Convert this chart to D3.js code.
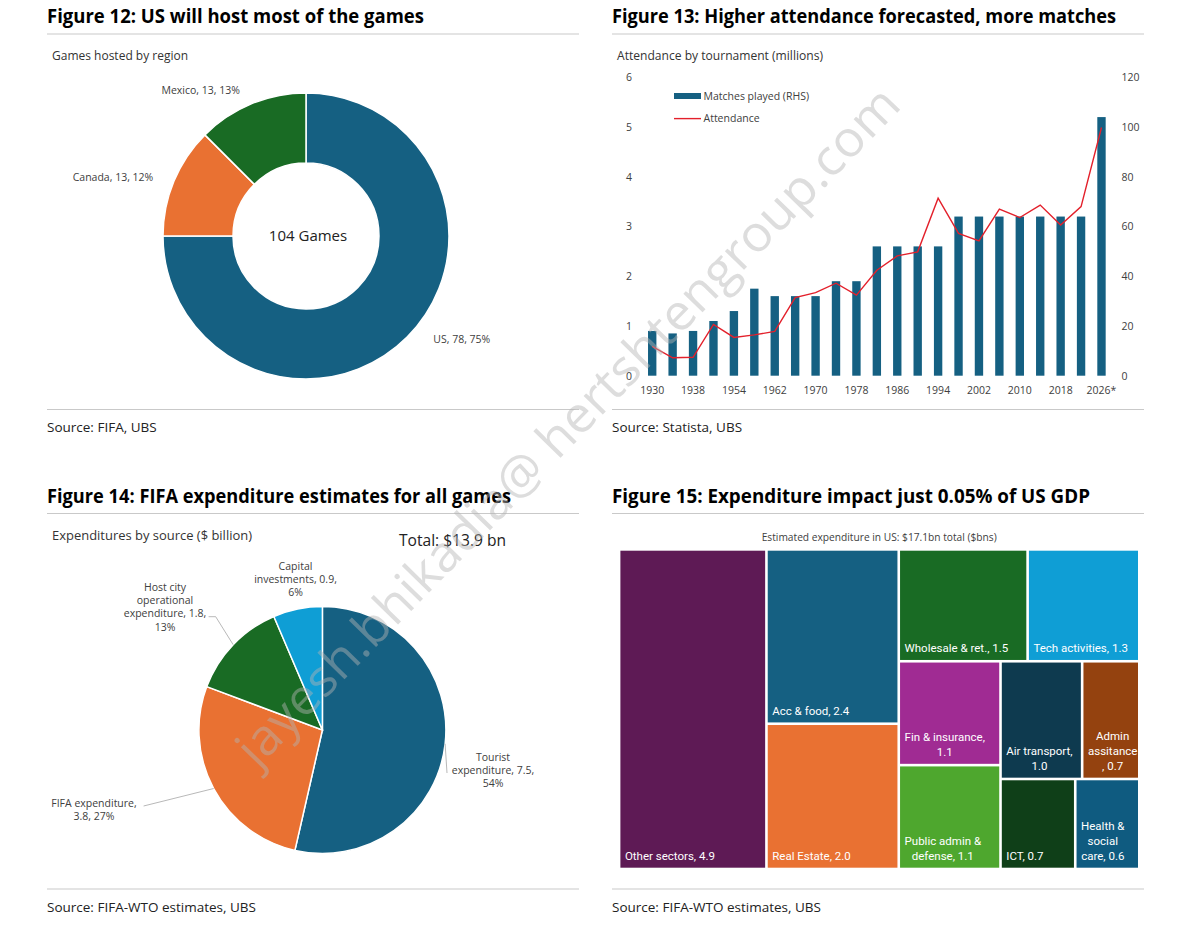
<!DOCTYPE html>
<html>
<head>
<meta charset="utf-8">
<script src="https://cdn.jsdelivr.net/npm/d3@7"></script>
<style>
  body { margin: 0; background: #fff; }
  svg { display: block; font-family: "Open Sans", "Noto Sans", sans-serif; }
</style>
</head>
<body>
<svg id="chart" width="1200" height="931"></svg>
<script>
// ---- Figure 12: games hosted by region
var hostRegions = ["US", "Canada", "Mexico"];
var hostGames = [78, 13, 13];
var hostShare = [75, 12, 13];

// ---- Figure 13: attendance by tournament
var tournaments = ["1930", "1934", "1938", "1950", "1954", "1958", "1962", "1966", "1970", "1974", "1978",
  "1982", "1986", "1990", "1994", "1998", "2002", "2006", "2010", "2014", "2018", "2022", "2026*"];
var matchesPlayed = [18, 17, 18, 22, 26, 35, 32, 32, 32, 38, 38, 52, 52, 52, 52, 64, 64, 64, 64, 64, 64, 64, 104];
var attendance = [0.59, 0.36, 0.37, 1.03, 0.77, 0.82, 0.89, 1.57, 1.67, 1.86, 1.62, 2.12,
  2.41, 2.49, 3.57, 2.86, 2.71, 3.35, 3.18, 3.43, 3.03, 3.40, 4.99];
var attendanceTicks = [0, 1, 2, 3, 4, 5, 6];
var matchesTicks = [0, 20, 40, 60, 80, 100, 120];

// ---- Figure 14: FIFA expenditure by source
var expSources = ["Tourist expenditure", "FIFA expenditure", "Host city operational expenditure", "Capital investments"];
var expValues = [7.5, 3.8, 1.8, 0.9];
var expShare = [54, 27, 13, 6];

// ---- Figure 15: estimated expenditure in US by sector
var sectors = ["Other sectors", "Acc & food", "Real Estate", "Wholesale & ret.", "Tech activities", "Fin & insurance",
  "Public admin & defense", "Air transport", "Admin assitance", "ICT", "Health & social care"];
var sectorValues = [4.9, 2.4, 2.0, 1.5, 1.3, 1.1, 1.1, 1.0, 0.7, 0.7, 0.6];

var palette = ["#156082", "#e97132", "#196b24", "#0f9ed5"];
var sectorColors = ["#5e1a55", "#156082", "#e97132", "#196b24", "#0f9ed5", "#a02b93",
  "#4ea72e", "#0e3a4f", "#94420f", "#0f3f18", "#0f5b80"];

var svg = d3.select("#chart");
var fmt1 = d3.format(".1f");

// panel frames: titles, rules, sources
var panels = [
  {x: 47, w: 532, y: 0, title: "Figure 12: US will host most of the games", tw: 377, source: "Source: FIFA, UBS"},
  {x: 612, w: 532, y: 0, title: "Figure 13: Higher attendance forecasted, more matches", tw: 504, source: "Source: Statista, UBS"},
  {x: 47, w: 532, y: 479.5, title: "Figure 14: FIFA expenditure estimates for all games", tw: 464, source: "Source: FIFA-WTO estimates, UBS"},
  {x: 612, w: 532, y: 479.5, title: "Figure 15: Expenditure impact just 0.05% of US GDP", tw: 478, source: "Source: FIFA-WTO estimates, UBS"}
];

panels.forEach(function (p) {
  var g = svg.append("g").attr("transform", "translate(0," + p.y + ")");
  g.append("text")
    .attr("x", p.x).attr("y", 23.4)
    .style("font-size", "19px").style("font-weight", "bold").style("fill", "#000")
    .attr("textLength", p.tw).attr("lengthAdjust", "spacingAndGlyphs")
    .text(p.title);
  g.append("line").attr("x1", p.x).attr("x2", p.x + p.w).attr("y1", 34).attr("y2", 34)
    .style("stroke", "#c9c9c9").style("stroke-width", 1);
  g.append("line").attr("x1", p.x).attr("x2", p.x + p.w).attr("y1", 409.5).attr("y2", 409.5)
    .style("stroke", "#c9c9c9").style("stroke-width", 1);
  g.append("text")
    .attr("x", p.x).attr("y", 432)
    .style("font-size", "13.5px").style("fill", "#222")
    .text(p.source);
});

function subtitle(x, y, txt, size) {
  return svg.append("text").attr("x", x).attr("y", y)
    .style("font-size", size || "12px").style("fill", "#333").text(txt);
}

// ================= Figure 12 donut
(function () {
  var cx = 306, cy = 236;
  subtitle(52, 59.5, "Games hosted by region");
  var pie = d3.pie().sort(null).value(function (d) { return d; });
  var arcs = pie(hostGames);
  var arc = d3.arc().innerRadius(73).outerRadius(143);
  var g = svg.append("g").attr("transform", "translate(" + cx + "," + cy + ")");
  g.selectAll("path").data(arcs).enter().append("path")
    .attr("d", arc)
    .style("fill", function (d, i) { return palette[i]; })
    .style("stroke", "#fff").style("stroke-width", 1.5);

  g.append("text").attr("x", 2).attr("y", 0).attr("dy", "0.35em")
    .attr("text-anchor", "middle").style("font-size", "15px").style("fill", "#222")
    .text(hostGames.reduce(function (a, b) { return a + b; }, 0) + " Games");

  // label spots as placed in the original
  var spots = [[155.8, 103], [-193, -58.5], [-105.3, -146]];
  g.selectAll(".lbl").data(arcs).enter().append("text")
    .attr("class", "lbl")
    .attr("x", function (d, i) { return spots[i][0]; })
    .attr("y", function (d, i) { return spots[i][1]; })
    .attr("dy", "0.35em").attr("text-anchor", "middle")
    .style("font-size", "10.5px").style("fill", "#404040")
    .text(function (d, i) { return hostRegions[i] + ", " + hostGames[i] + ", " + hostShare[i] + "%"; });
})();

// ================= Figure 13 bars + line
(function () {
  subtitle(617, 60, "Attendance by tournament (millions)").attr("textLength", 206).attr("lengthAdjust", "spacingAndGlyphs");

  var x = d3.scaleBand().domain(tournaments).range([642, 1111.7]).paddingInner(0.59).paddingOuter(0.295);
  var yL = d3.scaleLinear().domain([0, 6]).range([375.7, 77.3]);
  var yR = d3.scaleLinear().domain([0, 120]).range([375.7, 77.3]);

  svg.append("g").selectAll("rect").data(matchesPlayed).enter().append("rect")
    .attr("x", function (d, i) { return x(tournaments[i]); })
    .attr("width", x.bandwidth())
    .attr("y", function (d) { return yR(d); })
    .attr("height", function (d) { return yR(0) - yR(d); })
    .style("fill", "#156082");

  var line = d3.line()
    .x(function (d, i) { return x(tournaments[i]) + x.bandwidth() / 2; })
    .y(function (d) { return yL(d); });
  svg.append("path").datum(attendance).attr("d", line)
    .style("fill", "none").style("stroke", "#e3202b").style("stroke-width", 1.4);

  function styleAxis(g) {
    g.select(".domain").remove();
    g.selectAll("text").style("font-family", "'Open Sans', sans-serif")
      .style("font-size", "10.5px").style("fill", "#404040");
  }

  svg.append("g").attr("transform", "translate(635,0)")
    .call(d3.axisLeft(yL).tickValues(attendanceTicks).tickSize(0).tickPadding(3).tickFormat(d3.format("d")))
    .call(styleAxis);
  svg.append("g").attr("transform", "translate(1118.5,0)")
    .call(d3.axisRight(yR).tickValues(matchesTicks).tickSize(0).tickPadding(3).tickFormat(d3.format("d")))
    .call(styleAxis);
  var xa = svg.append("g").attr("transform", "translate(0," + yL(0) + ")")
    .call(d3.axisBottom(x).tickValues(tournaments.filter(function (d, i) { return i % 2 === 0; })).tickSize(0))
    .call(styleAxis);
  xa.selectAll("text").attr("y", 18).attr("dy", 0);

  // legend
  var lg = svg.append("g");
  lg.append("rect").attr("x", 674).attr("y", 93).attr("width", 27).attr("height", 6).style("fill", "#156082");
  lg.append("line").attr("x1", 674).attr("x2", 701).attr("y1", 118.6).attr("y2", 118.6)
    .style("stroke", "#e3202b").style("stroke-width", 1.4);
  lg.append("text").attr("x", 703.5).attr("y", 96).attr("dy", "0.35em")
    .style("font-size", "10.5px").style("fill", "#404040").text("Matches played (RHS)");
  lg.append("text").attr("x", 703.5).attr("y", 118.6).attr("dy", "0.35em")
    .style("font-size", "10.5px").style("fill", "#404040").text("Attendance");
})();

// ================= Figure 14 pie
(function () {
  var cx = 322.4, cy = 730, r = 123.5;
  subtitle(52, 539.5, "Expenditures by source ($ billion)").attr("textLength", 200).attr("lengthAdjust", "spacingAndGlyphs");
  svg.append("text").attr("x", 399).attr("y", 546)
    .style("font-size", "17px").style("fill", "#222")
    .attr("textLength", 107).attr("lengthAdjust", "spacingAndGlyphs")
    .text("Total: $13.9 bn");

  var pie = d3.pie().sort(null).value(function (d) { return d; });
  var arcs = pie(expValues);
  var arc = d3.arc().innerRadius(0).outerRadius(r);
  var g = svg.append("g").attr("transform", "translate(" + cx + "," + cy + ")");
  g.selectAll("path").data(arcs).enter().append("path")
    .attr("d", arc)
    .style("fill", function (d, i) { return palette[i]; })
    .style("stroke", "#fff").style("stroke-width", 1.5);

  // label text wrapping and placement as in the original
  var wraps = [
    ["Tourist", "expenditure, %v,", "%p"],
    ["FIFA expenditure,", "%v, %p"],
    ["Host city", "operational", "expenditure, %v,", "%p"],
    ["Capital", "investments, %v,", "%p"]
  ];
  var spots = [
    {x: 493, y: 760.5, lead: [[447, 773]]},
    {x: 94, y: 806.5, lead: [[143.6, 806]]},
    {x: 165, y: 590.8, lead: [[215.7, 616.7], [208.6, 616.7]]},
    {x: 295.5, y: 569.8, lead: null}
  ];

  arcs.forEach(function (a, i) {
    var s = spots[i];
    if (s.lead) {
      var mid = (a.startAngle + a.endAngle) / 2;
      var pts = [[cx + r * Math.sin(mid), cy - r * Math.cos(mid)]].concat(s.lead);
      svg.append("path").attr("d", d3.line()(pts))
        .style("fill", "none").style("stroke", "#a6a6a6").style("stroke-width", 0.8);
    }
    var t = svg.append("text").attr("text-anchor", "middle")
      .style("font-size", "10.5px").style("fill", "#404040");
    wraps[i].forEach(function (w, k) {
      t.append("tspan").attr("x", s.x).attr("y", s.y + k * 13.3)
        .text(w.replace("%v", fmt1(expValues[i])).replace("%p", expShare[i] + "%"));
    });
  });
})();

// ================= Figure 15 treemap
(function () {
  var x0 = 620.4, y0 = 550.7, tw = 517.6, th = 317;
  svg.append("text").attr("x", x0 + tw / 2).attr("y", 540.8).attr("text-anchor", "middle")
    .style("font-size", "10px").style("fill", "#404040")
    .attr("textLength", 235).attr("lengthAdjust", "spacingAndGlyphs")
    .text("Estimated expenditure in US: $" + fmt1(17.1) + "bn total ($bns)");

  // nesting that reproduces the Excel tiling: "x" splits across, "y" splits down
  var nest = {dir: "x", kids: [0,
    {dir: "y", kids: [1, 2]},
    {dir: "y", kids: [
      {dir: "x", kids: [3, 4]},
      {dir: "x", kids: [
        {dir: "y", kids: [5, 6]},
        {dir: "y", kids: [{dir: "x", kids: [7, 8]}, {dir: "x", kids: [9, 10]}]}
      ]}
    ]}
  ]};
  function build(n) {
    return typeof n === "number" ? {idx: n, value: sectorValues[n]} : {dir: n.dir, children: n.kids.map(build)};
  }
  var root = d3.hierarchy(build(nest)).sum(function (d) { return d.value || 0; });
  d3.treemap()
    .size([tw, th])
    .paddingInner(2.6)
    .tile(function (node, a, b, c, d) {
      (node.data.dir === "x" ? d3.treemapDice : d3.treemapSlice)(node, a, b, c, d);
    })(root);

  var wraps = [
    ["Other sectors, %v"], ["Acc & food, %v"], ["Real Estate, %v"], ["Wholesale & ret., %v"],
    ["Tech activities, %v"], ["Fin & insurance,", "%v"], ["Public admin &", "defense, %v"],
    ["Air transport,", "%v"], ["Admin", "assitance", ", %v"], ["ICT, %v"], ["Health &", "social", "care, %v"]
  ];

  var g = svg.append("g").attr("transform", "translate(" + x0 + "," + y0 + ")");
  var cells = g.selectAll("g.cell").data(root.leaves()).enter().append("g").attr("class", "cell");
  cells.append("rect")
    .attr("x", function (d) { return d.x0; })
    .attr("y", function (d) { return d.y0; })
    .attr("width", function (d) { return d.x1 - d.x0; })
    .attr("height", function (d) { return d.y1 - d.y0; })
    .style("fill", function (d) { return sectorColors[d.data.idx]; });

  cells.each(function (d) {
    var lines = wraps[d.data.idx].map(function (w) { return w.replace("%v", fmt1(sectorValues[d.data.idx])); });
    var t = d3.select(this).append("text").attr("text-anchor", "middle")
      .style("font-family", "Roboto, 'Noto Sans', sans-serif")
      .style("font-size", "11.5px").style("fill", "#fff");
    var spans = lines.map(function (s, k) {
      return t.append("tspan").attr("y", d.y1 - 7.5 - (lines.length - 1 - k) * 15).text(s);
    });
    var bw = d3.max(spans, function (sp) { return sp.node().getComputedTextLength(); });
    spans.forEach(function (sp) { sp.attr("x", d.x0 + 4.5 + bw / 2); });
  });
})();

// faint diagonal watermark
svg.append("text")
  .attr("transform", "translate(580,438) rotate(-45.7)")
  .attr("text-anchor", "middle")
  .style("font-size", "50px").style("fill", "#b4b4b4").style("opacity", 0.45)
  .attr("textLength", 925).attr("lengthAdjust", "spacingAndGlyphs")
  .style("pointer-events", "none")
  .text("jayesh.bhikadia@ hertshtengroup.com");
</script>
</body>
</html>
